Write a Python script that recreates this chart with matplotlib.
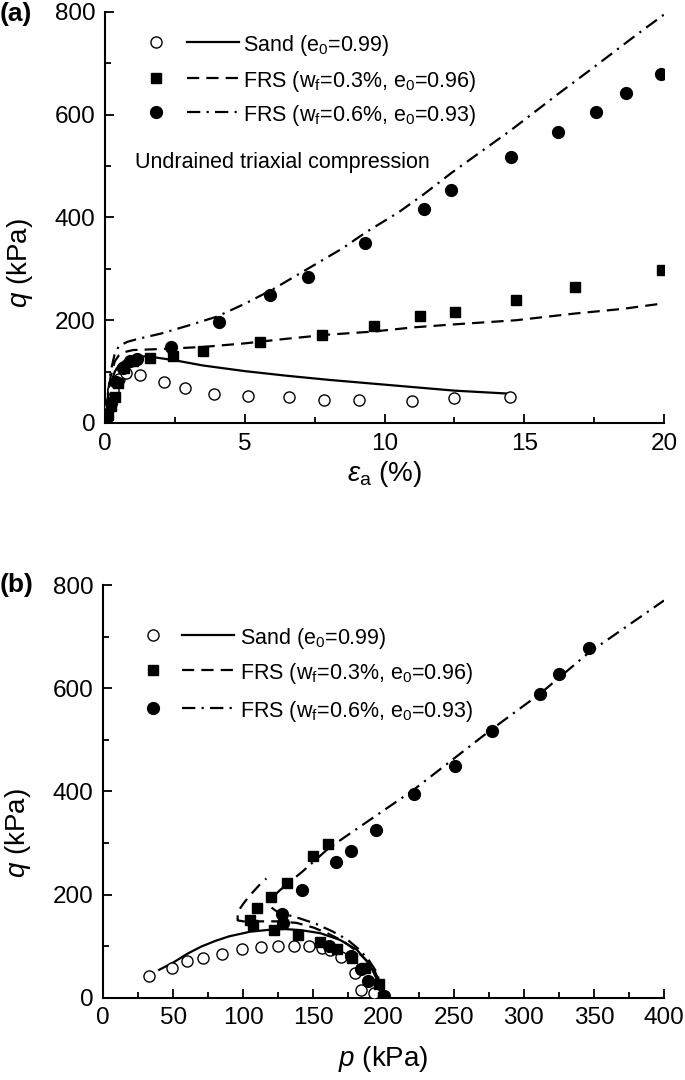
import matplotlib
matplotlib.use('Agg')
import matplotlib.pyplot as plt
from matplotlib.ticker import MultipleLocator

plt.rcParams['font.family'] = ['Liberation Sans', 'DejaVu Sans']
plt.rcParams['mathtext.fontset'] = 'custom'
plt.rcParams['mathtext.rm'] = 'Liberation Sans'
plt.rcParams['mathtext.it'] = 'Liberation Sans:italic'
plt.rcParams['mathtext.bf'] = 'Liberation Sans:bold'

# ---------------- Panel (a): q vs axial strain ----------------
sand_eps_exp = [0.05, 0.15, 0.3, 0.5, 0.75, 1.25, 2.1, 2.88, 3.9, 5.1, 6.6, 7.85, 9.1, 11.0, 12.5, 14.5]
sand_q_exp = [10, 35, 65, 85, 97, 93, 80, 68, 57, 52, 50, 45, 45, 42, 48, 51]
frs3_eps_exp = [0.1, 0.21, 0.35, 0.45, 0.68, 1.0, 1.6, 2.43, 3.5, 5.54, 7.76, 9.61, 11.26, 12.52, 14.71, 16.8, 19.92]
frs3_q_exp = [15, 34, 51, 77, 107, 120, 126, 130, 140, 158, 172, 189, 208, 216, 240, 264, 298]
frs6_eps_exp = [0.08, 0.2, 0.4, 0.65, 0.9, 1.13, 2.35, 4.09, 5.91, 7.25, 9.31, 11.41, 12.38, 14.52, 16.19, 17.56, 18.65, 19.91]
frs6_q_exp = [12, 38, 80, 108, 120, 125, 147, 197, 249, 284, 351, 417, 453, 517, 567, 606, 642, 679]

sand_eps_sim = [0, 0.1, 0.2, 0.35, 0.5, 0.75, 1.0, 1.5, 2.5, 3.5, 5, 6.5, 8, 9.5, 11, 12.5, 14.5]
sand_q_sim = [0, 45, 75, 100, 113, 123, 128, 130, 122, 112, 101, 92, 84, 77, 70, 63, 57]
frs3_eps_sim = [0, 0.1, 0.2, 0.35, 0.5, 0.7, 1.0, 2, 3.5, 5, 6.5, 8, 9.6, 11, 12.5, 14.7, 16.8, 18.5, 20]
frs3_q_sim = [0, 50, 90, 120, 132, 138, 142, 144, 148, 155, 164, 172, 178, 186, 192, 200, 213, 222, 233]
frs6_eps_sim = [0, 0.1, 0.2, 0.35, 0.5, 0.8, 1.2, 2, 3, 4, 5, 6, 7.25, 8.5, 9.3, 10.5, 11.4, 12.4, 13.5, 14.5, 16.2, 17.6, 19, 20]
frs6_q_sim = [0, 55, 100, 135, 150, 158, 164, 174, 190, 207, 232, 260, 300, 340, 370, 410, 445, 487, 530, 569, 640, 697, 755, 795]

# ---------------- Panel (b): q vs p ----------------
sand_p_exp = [33, 49, 60, 71, 85, 99, 113, 125, 136, 147, 156, 162, 170, 180, 184, 193]
sand_qb_exp = [42, 58, 71, 77, 85, 95, 98, 101, 101, 100, 97, 92, 79, 48, 15, 9]
frs3_p_exp = [199.6, 196.5, 187, 177.5, 167, 155, 139, 122, 107, 104.5, 109.5, 120, 131, 149.5, 160.3]
frs3_qb_exp = [1, 26, 58, 76, 94, 108, 122, 131, 140, 150, 174, 195, 222, 275, 298]
frs6_p_exp = [200, 189.3, 184, 177, 161, 128, 127.5, 141.6, 165.9, 176.7, 194.6, 221.5, 251.3, 277.4, 311.7, 324.9, 346.5]
frs6_qb_exp = [4, 32, 55, 80, 100, 145, 163, 208.5, 263.6, 285, 325, 395, 450, 517.5, 589, 628, 677.5]

sand_p_sim = [40, 50, 60, 70, 80, 90, 105, 120, 130, 141, 155, 169, 181, 190.5, 196.5, 198]
sand_qb_sim = [54, 68, 85, 99, 110, 119, 128, 132, 133, 131, 125, 112, 93, 63, 28, 0]
frs3_p_sim = [200, 198, 194, 188, 181, 171, 160, 150, 138, 125, 112, 102, 96, 96, 97, 100, 104, 108, 112, 116.5]
frs3_qb_sim = [0, 25, 50, 72, 90, 110, 125, 136, 145, 148, 148, 147, 150, 160, 170, 182, 196, 208, 220, 231]
frs6_p_sim = [200, 198, 195, 189, 182, 174, 164, 152, 140, 131, 124, 120, 119, 121, 126, 132, 142, 161, 221, 277, 312, 346, 400]
frs6_qb_sim = [0, 25, 50, 75, 95, 113, 128, 143, 154, 161, 167, 175, 185, 195, 208, 222, 244, 290, 402, 520, 590, 668, 770]

legend_labels = [r'Sand (e$_0$=0.99)',
                 r'FRS (w$_\mathrm{f}$=0.3%, e$_0$=0.96)',
                 r'FRS (w$_\mathrm{f}$=0.6%, e$_0$=0.93)']

LW = 1.6
DASH = (0, (5.5, 3.2))
DASHDOT = (0, (6.0, 2.8, 1.0, 2.8))
styles = [
    dict(marker='o', mfc='white', mec='black', ms=8, mew=1.0, ls='-'),
    dict(marker='s', mfc='black', mec='black', ms=7, mew=1.0, ls=DASH),
    dict(marker='o', mfc='black', mec='black', ms=8.5, mew=1.0, ls=DASHDOT),
]

fig = plt.figure(figsize=(6.85, 10.8), dpi=100)
axA = fig.add_axes([105/685, 1-423/1080, 559/685, 411/1080])
axB = fig.add_axes([103/685, 1-997.7/1080, 561/685, 412.7/1080])


def style_axes(ax, xmaj, xmin):
    for s in ['top', 'right']:
        ax.spines[s].set_visible(False)
    for s in ['left', 'bottom']:
        ax.spines[s].set_linewidth(1.5)
    ax.xaxis.set_major_locator(MultipleLocator(xmaj))
    ax.xaxis.set_minor_locator(MultipleLocator(xmin))
    ax.yaxis.set_major_locator(MultipleLocator(200))
    ax.yaxis.set_minor_locator(MultipleLocator(100))
    ax.tick_params(which='both', direction='in', top=False, right=False, labelsize=17.5, width=1.3)
    ax.tick_params(which='major', length=6.5)
    ax.tick_params(which='minor', length=4)
    ax.tick_params(axis='x', pad=7)
    ax.tick_params(axis='y', pad=7)


def draw_legend(ax, xm, xl0, xl1, xt, ys):
    for st, lab, y in zip(styles, legend_labels, ys):
        ax.plot([xm], [y], transform=ax.transAxes, marker=st['marker'], mfc=st['mfc'],
                mec=st['mec'], ms=st['ms'], mew=st['mew'], ls='none', clip_on=False)
        ax.plot([xl0, xl1], [y, y], transform=ax.transAxes, color='black', lw=LW,
                ls=st['ls'], clip_on=False)
        ax.text(xt, y, lab, transform=ax.transAxes, fontsize=15.5, ha='left',
                va='center_baseline')


# ---- Panel (a)
exp_a = [(sand_eps_exp, sand_q_exp), (frs3_eps_exp, frs3_q_exp), (frs6_eps_exp, frs6_q_exp)]
sim_a = [(sand_eps_sim, sand_q_sim), (frs3_eps_sim, frs3_q_sim), (frs6_eps_sim, frs6_q_sim)]
for st, (x, y) in zip(styles, sim_a):
    axA.plot(x, y, color='black', lw=LW, ls=st['ls'], zorder=2)
for st, (x, y) in zip(styles, exp_a):
    axA.plot(x, y, ls='none', marker=st['marker'], mfc=st['mfc'], mec=st['mec'],
             ms=st['ms'], mew=st['mew'], zorder=3)
axA.set_xlim(0, 20)
axA.set_ylim(0, 800)
style_axes(axA, 5, 2.5)
axA.set_xlabel(r'$\varepsilon_\mathrm{a}$ (%)', fontsize=20)
axA.xaxis.set_label_coords(0.5, -0.088)
axA.set_ylabel(r'$q$ (kPa)', fontsize=20)
axA.yaxis.set_label_coords(-0.125, 0.39)
draw_legend(axA, 0.0912, 0.1467, 0.239, 0.247, [0.927, 0.8406, 0.7567])
axA.text(0.0537, 0.64, 'Undrained triaxial compression', transform=axA.transAxes,
         fontsize=15.5, ha='left', va='center_baseline')
fig.text(0.0, 1-14/1080, '(a)', fontsize=19, fontweight='bold', ha='left', va='center')

# ---- Panel (b)
exp_b = [(sand_p_exp, sand_qb_exp), (frs3_p_exp, frs3_qb_exp), (frs6_p_exp, frs6_qb_exp)]
sim_b = [(sand_p_sim, sand_qb_sim), (frs3_p_sim, frs3_qb_sim), (frs6_p_sim, frs6_qb_sim)]
for st, (x, y) in zip(styles, sim_b):
    axB.plot(x, y, color='black', lw=LW, ls=st['ls'], zorder=2)
for st, (x, y) in zip(styles, exp_b):
    axB.plot(x, y, ls='none', marker=st['marker'], mfc=st['mfc'], mec=st['mec'],
             ms=st['ms'], mew=st['mew'], zorder=3)
axB.set_xlim(0, 400)
axB.set_ylim(0, 800)
style_axes(axB, 50, 25)
axB.set_xlabel(r'$p$ (kPa)', fontsize=20)
axB.xaxis.set_label_coords(0.5, -0.112)
axB.set_ylabel(r'$q$ (kPa)', fontsize=20)
axB.yaxis.set_label_coords(-0.125, 0.40)
draw_legend(axB, 0.0891, 0.1408, 0.2335, 0.245, [0.879, 0.794, 0.702])
fig.text(0.0, 1-585/1080, '(b)', fontsize=19, fontweight='bold', ha='left', va='center')

fig.savefig('out.png', dpi=100)
